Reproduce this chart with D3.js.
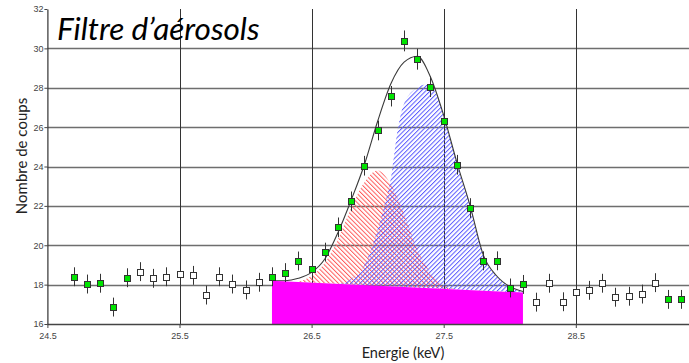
<!DOCTYPE html>
<html>
<head>
<meta charset="utf-8">
<script src="https://cdn.jsdelivr.net/npm/d3@7"></script>
<style>
  html, body { margin: 0; padding: 0; background: #fff; }
  svg { display: block; }
</style>
</head>
<body>
<svg id="chart" width="689" height="363"></svg>
<script>
// ---- data ----
const energies = [24.7, 24.8, 24.9, 25.0, 25.1, 25.2, 25.3, 25.4, 25.5, 25.6,
                  25.7, 25.8, 25.9, 26.0, 26.1, 26.2, 26.3, 26.4, 26.5, 26.6,
                  26.7, 26.8, 26.9, 27.0, 27.1, 27.2, 27.3, 27.4, 27.5, 27.6,
                  27.7, 27.8, 27.9, 28.0, 28.1, 28.2, 28.3, 28.4, 28.5, 28.6,
                  28.7, 28.8, 28.9, 29.0, 29.1, 29.2, 29.3];
const counts = [18.40, 18.03, 18.07, 16.86, 18.35, 18.66, 18.32, 18.40, 18.54, 18.47,
                17.47, 18.40, 18.03, 17.73, 18.12, 18.40, 18.61, 19.20, 18.79, 19.65,
                20.91, 22.23, 24.04, 25.83, 27.57, 30.38, 29.45, 28.05, 26.32, 24.09,
                21.89, 19.21, 19.21, 17.83, 18.01, 17.11, 18.07, 17.13, 17.61, 17.71,
                18.07, 17.36, 17.41, 17.52, 18.10, 17.25, 17.25];
const errors = [0.48, 0.48, 0.48, 0.48, 0.48, 0.48, 0.48, 0.48, 0.48, 0.48,
                0.48, 0.48, 0.48, 0.48, 0.48, 0.48, 0.48, 0.48, 0.48, 0.48,
                0.5, 0.5, 0.5, 0.5, 0.52, 0.53, 0.53, 0.52, 0.5, 0.5,
                0.5, 0.48, 0.48, 0.48, 0.48, 0.48, 0.48, 0.48, 0.48, 0.48,
                0.48, 0.48, 0.48, 0.48, 0.48, 0.48, 0.48];
const usedInFit = [1, 1, 1, 1, 1, 0, 0, 0, 0, 0,
                   0, 0, 0, 0, 0, 1, 1, 1, 1, 1,
                   1, 1, 1, 1, 1, 1, 1, 1, 1, 1,
                   1, 1, 1, 1, 1, 0, 0, 0, 0, 0,
                   0, 0, 0, 0, 0, 1, 1];

// fitted total curve
const fitE = [26.2, 26.3, 26.4, 26.5, 26.6, 26.7, 26.8, 26.9, 27.0, 27.1,
              27.2, 27.3, 27.4, 27.5, 27.6, 27.7, 27.8, 27.9, 28.0, 28.1];
const fitY = [18.2, 18.2, 18.32, 18.62, 19.3, 20.65, 22.3, 24.1, 26.3, 28.2,
              29.3, 29.6, 28.55, 26.6, 24.2, 22.0, 19.5, 18.45, 17.9, 17.65];

// background (magenta) region: linear top edge
const bgE = [26.2, 28.1];
const bgY = [18.2, 17.6];

// red peak (hatched) top edge
const redE = [26.4, 26.5, 26.6, 26.7, 26.8, 26.9, 27.0, 27.1, 27.2, 27.3, 27.4, 27.5, 27.6];
const redY = [18.14, 18.45, 19.1, 20.3, 21.9, 23.2, 23.8, 23.1, 21.6, 19.8, 18.6, 17.95, 17.76];

// blue peak (hatched) top edge
const blueE = [26.7, 26.8, 26.9, 27.0, 27.05, 27.1, 27.15, 27.2, 27.3, 27.35, 27.4,
               27.45, 27.5, 27.6, 27.7, 27.8, 27.9, 28.0, 28.1];
const blueY = [17.99, 18.3, 19.0, 20.8, 22.0, 23.4, 25.8, 27.2, 28.0, 28.15, 28.1,
               27.6, 26.6, 24.2, 22.0, 19.5, 18.45, 17.9, 17.65];

const xTicks = [24.5, 25.5, 26.5, 27.5, 28.5];
const yTicks = [16, 18, 20, 22, 24, 26, 28, 30, 32];

const titleText = "Filtre d\u2019aérosols";
const xLabel = "Energie (keV)";
const yLabel = "Nombre de coups";

// ---- drawing ----
const svg = d3.select("#chart");
const W = 689, H = 363;
const mLeft = 47.4, mBottom = 324, mTop = 9;

const x = d3.scaleLinear().domain([24.5, 29.5]).range([mLeft, mLeft + 5 * 132.1]);
const y = d3.scaleLinear().domain([16, 32]).range([mBottom, mTop]);

const defs = svg.append("defs");
function hatch(id, color, angle) {
  const p = defs.append("pattern")
    .attr("id", id)
    .attr("patternUnits", "userSpaceOnUse")
    .attr("width", 3.2).attr("height", 3.2)
    .attr("patternTransform", `rotate(${angle})`);
  p.append("line").attr("x1", 0.5).attr("y1", 0).attr("x2", 0.5).attr("y2", 3.2)
    .attr("stroke", color).attr("stroke-width", 1);
}
hatch("hRed", "#ff5a5a", -45);
hatch("hBlue", "#5a5aff", 45);

const clip = defs.append("clipPath").attr("id", "plotClip");
clip.append("rect").attr("x", mLeft).attr("y", 0).attr("width", W - mLeft).attr("height", mBottom);

// grid
const grid = svg.append("g");
grid.selectAll("line.h").data(yTicks.filter(t => t > 16 && t < 32)).join("line")
  .attr("class", "h")
  .attr("x1", mLeft).attr("x2", W)
  .attr("y1", d => Math.round(y(d)) + 0.5).attr("y2", d => Math.round(y(d)) + 0.5)
  .attr("stroke", "#6e6e6e").attr("stroke-width", 1.4);
grid.selectAll("line.v").data(xTicks.filter(t => t > 24.5)).join("line")
  .attr("class", "v")
  .attr("x1", d => Math.round(x(d)) + 0.5).attr("x2", d => Math.round(x(d)) + 0.5)
  .attr("y1", mTop).attr("y2", mBottom)
  .attr("stroke", "#333").attr("stroke-width", 1);

const plot = svg.append("g").attr("clip-path", "url(#plotClip)");

const bgLine = d3.scaleLinear().domain(bgE).range(bgY);

// hatched peaks (lower edge = background)
const areaGen = d3.area()
  .x(d => x(d[0]))
  .y0(d => y(bgLine(d[0])))
  .y1(d => y(d[1]))
  .curve(d3.curveMonotoneX);

plot.append("path")
  .datum(redE.map((e, i) => [e, redY[i]]))
  .attr("d", areaGen)
  .attr("fill", "url(#hRed)");
plot.append("path")
  .datum(blueE.map((e, i) => [e, blueY[i]]))
  .attr("d", areaGen)
  .attr("fill", "url(#hBlue)");

// fitted curve
plot.append("path")
  .datum(fitE.map((e, i) => [e, fitY[i]]))
  .attr("d", d3.line().x(d => x(d[0])).y(d => y(d[1])).curve(d3.curveMonotoneX))
  .attr("fill", "none").attr("stroke", "#3a3a3a").attr("stroke-width", 1.1);

// background (magenta)
plot.append("path")
  .datum(bgE.map((e, i) => [e, bgY[i]]))
  .attr("d", d3.area().x(d => x(d[0])).y0(y(16)).y1(d => y(d[1])))
  .attr("fill", "#ff00ff");

// axes
const xAxis = d3.axisBottom(x).tickValues(xTicks).tickSize(4).tickSizeOuter(0)
  .tickFormat(d3.format(".1f"));
const gx = svg.append("g").attr("transform", `translate(0,${mBottom})`).call(xAxis);
gx.select(".domain").attr("stroke", "#444").attr("stroke-width", 1.4)
  .attr("d", `M${mLeft},0.5H${W}`);
gx.selectAll(".tick line").attr("stroke", "#444");
gx.selectAll(".tick text").attr("font-family", "Liberation Sans, Arial, sans-serif")
  .attr("font-size", 9).attr("fill", "#444").attr("dy", "0.85em");

const yAxis = d3.axisLeft(y).tickValues(yTicks).tickSize(3).tickSizeOuter(0)
  .tickFormat(d3.format("d"));
const gy = svg.append("g").attr("transform", `translate(${mLeft},0)`).call(yAxis);
gy.select(".domain").attr("stroke", "#333").attr("stroke-width", 1.2);
gy.selectAll(".tick line").attr("stroke", "#444");
gy.selectAll(".tick text").attr("font-family", "Liberation Sans, Arial, sans-serif")
  .attr("font-size", 9).attr("fill", "#444").attr("x", -4);

// data points with error bars
const pts = svg.append("g");
const pd = energies.map((e, i) => ({ e, c: counts[i], err: errors[i], f: usedInFit[i] }));
pts.selectAll("line.err").data(pd).join("line")
  .attr("class", "err")
  .attr("x1", d => Math.round(x(d.e)) + 0.5).attr("x2", d => Math.round(x(d.e)) + 0.5)
  .attr("y1", d => y(d.c + d.err)).attr("y2", d => y(d.c - d.err))
  .attr("stroke", "#333").attr("stroke-width", 1);
pts.selectAll("rect.pt").data(pd).join("rect")
  .attr("class", "pt")
  .attr("x", d => Math.round(x(d.e)) - 2.5).attr("y", d => Math.round(y(d.c)) - 2.5)
  .attr("width", 6).attr("height", 6)
  .attr("fill", d => d.f ? "#00e400" : "#ffffff")
  .attr("stroke", "#333").attr("stroke-width", 1);

// labels
svg.append("text")
  .attr("x", 57).attr("y", 40)
  .attr("font-family", "Lato, 'Open Sans', sans-serif")
  .attr("font-style", "italic")
  .attr("font-size", 31.5)
  .attr("fill", "#000")
  .text(titleText);

svg.append("text")
  .attr("x", 403).attr("y", 358)
  .attr("text-anchor", "middle")
  .attr("font-family", "Lato, 'Open Sans', sans-serif")
  .attr("font-size", 14.5)
  .attr("fill", "#222")
  .text(xLabel);

svg.append("text")
  .attr("transform", "translate(27,156) rotate(-90)")
  .attr("text-anchor", "middle")
  .attr("font-family", "Lato, 'Open Sans', sans-serif")
  .attr("font-size", 15)
  .attr("fill", "#222")
  .text(yLabel);
</script>
</body>
</html>
